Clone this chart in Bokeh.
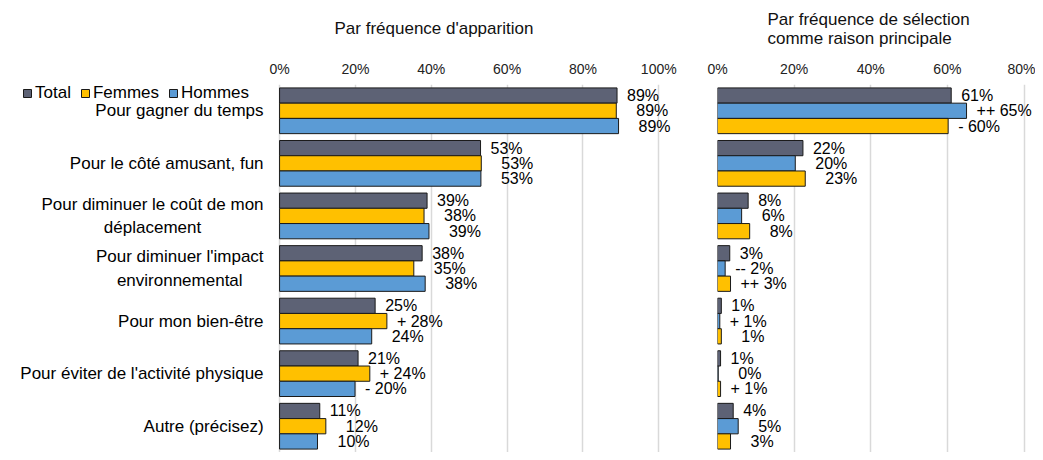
from bokeh.plotting import figure
from bokeh.models import (ColumnDataSource, FactorRange, Range1d, FixedTicker,
                          PrintfTickFormatter, Legend, LegendItem)
from bokeh.transform import dodge
from bokeh.layouts import row
from bokeh.core.properties import value
from bokeh.embed import file_html
from bokeh.resources import INLINE

FONT = "Liberation Sans"

categories = ["Pour gagner du temps",
              "Pour le côté amusant, fun",
              "Pour diminuer le coût de mon\ndéplacement",
              "Pour diminuer l'impact\nenvironnemental",
              "Pour mon bien-être",
              "Pour éviter de l'activité physique",
              "Autre (précisez)"]

# Panel 1 : par fréquence d'apparition (%)
freq_total = [89.0, 53.0, 38.9, 37.6, 25.2, 20.7, 10.6]
freq_femmes = [88.8, 53.2, 38.1, 35.4, 28.3, 23.8, 12.2]
freq_hommes = [89.4, 53.1, 39.4, 38.4, 24.3, 19.9, 10.0]
freq_femmes_sig = ["", "", "", "", "+", "+", ""]
freq_hommes_sig = ["", "", "", "", "", "-", ""]

# Panel 2 : par fréquence de sélection comme raison principale (%)
main_total = [61.0, 22.3, 8.0, 3.2, 1.0, 0.8, 4.1]
main_hommes = [65.0, 20.3, 6.3, 2.0, 0.6, 0.2, 5.4]
main_femmes = [60.2, 22.9, 8.4, 3.4, 1.0, 0.8, 3.4]
main_hommes_sig = ["++", "", "", "--", "+", "", ""]
main_femmes_sig = ["-", "", "", "++", "", "+", ""]

left_ticks = [0, 20, 40, 60, 80, 100]
right_ticks = [0, 20, 40, 60, 80]

title_left = "Par fréquence d'apparition"
title_right = "Par fréquence de sélection\ncomme raison principale"

C_TOTAL = "#5D6275"
C_FEMMES = "#FFC000"
C_HOMMES = "#5B9BD5"

BAR_H = 0.29
H = 452
TOP = 83

yr = FactorRange(factors=categories[::-1], range_padding=0)


def labels(vals, sigs=None, base=False):
    out, offs = [], []
    for i, v in enumerate(vals):
        s = "" if sigs is None else sigs[i]
        out.append(f"{s} {round(v)}%" if s else f"{round(v)}%")
        offs.append(10 if (base or s) else 20)
    return out, offs


def style(p, ticks):
    p.xaxis.ticker = FixedTicker(ticks=ticks)
    p.xaxis.formatter = PrintfTickFormatter(format="%d%%")
    p.xaxis.major_tick_line_color = None
    p.xaxis.minor_tick_line_color = None
    p.xaxis.axis_line_color = None
    p.xaxis.major_label_standoff = 2
    p.xaxis.major_label_text_font_size = "14px"
    p.xaxis.major_label_text_font = FONT
    p.xaxis.major_label_text_color = "#222222"
    p.xgrid.grid_line_color = "#D9D9D9"
    p.xgrid.grid_line_width = 1.5
    p.ygrid.visible = False
    p.outline_line_color = None
    p.title.text_font = FONT
    p.title.text_font_size = "17px"
    p.title.text_font_style = "normal"
    p.title.text_color = "#111111"
    p.title.align = "left"
    p.title.vertical_align = "top"


def series(p, vals, offset, color, sigs=None, base=False):
    txt, offs = labels(vals, sigs, base)
    src = ColumnDataSource(dict(cat=categories, val=vals, txt=txt, off=offs))
    y = dodge("cat", offset, range=yr)
    r = p.hbar(y=y, left=0, right="val", height=BAR_H, source=src,
               fill_color=color, line_color="#1a1a1a", line_width=1)
    p.text(x="val", y=y, text="txt", x_offset="off", source=src,
           text_baseline="middle", text_align="left",
           text_font=value(FONT), text_font_size="16px", text_color="#000000")
    return r


# ---------- left figure (category labels + first panel) ----------
p1 = figure(width=681, height=H, y_range=yr, x_range=Range1d(-73.6, 106),
            x_axis_location="above", y_axis_location=None,
            output_backend="svg", toolbar_location=None,
            min_border_left=0, min_border_right=0, min_border_top=TOP,
            min_border_bottom=0, title=title_left)
style(p1, left_ticks)
p1.title.offset = 334
p1.title.standoff = 36

cat_src = ColumnDataSource(dict(cat=categories))
p1.text(x=0, y="cat", text="cat", source=cat_src, x_offset=-16,
        anchor=value("center_right"), text_align="center",
        text_baseline="middle",
        text_font=value(FONT), text_font_size="17px", text_color="#000000",
        text_line_height=1.22)

r_t = series(p1, freq_total, BAR_H, C_TOTAL, base=True)
r_f = series(p1, freq_femmes, 0, C_FEMMES, freq_femmes_sig)
r_h = series(p1, freq_hommes, -BAR_H, C_HOMMES, freq_hommes_sig)

legend = Legend(items=[LegendItem(label="Total", renderers=[r_t]),
                       LegendItem(label="Femmes", renderers=[r_f]),
                       LegendItem(label="Hommes", renderers=[r_h])],
                orientation="horizontal", location=(22, 349),
                padding=0, margin=0, border_line_color=None,
                background_fill_alpha=0, glyph_width=10, glyph_height=10,
                label_standoff=3, spacing=9, label_text_font_size="17px",
                label_text_font=FONT, label_text_color="#000000")
p1.add_layout(legend)

# ---------- right figure ----------
p2 = figure(width=354, height=H, y_range=yr, x_range=Range1d(0, 83),
            x_axis_location="above", y_axis_location=None,
            output_backend="svg", toolbar_location=None,
            min_border_left=36, min_border_right=0, min_border_top=TOP,
            min_border_bottom=0, title=title_right)
style(p2, right_ticks)
p2.title.offset = 50
p2.title.standoff = 15

series(p2, main_total, BAR_H, C_TOTAL, base=True)
series(p2, main_hommes, 0, C_HOMMES, main_hommes_sig)
series(p2, main_femmes, -BAR_H, C_FEMMES, main_femmes_sig)

layout = row(p1, p2)
open("out.html", "w").write(file_html(layout, INLINE))
